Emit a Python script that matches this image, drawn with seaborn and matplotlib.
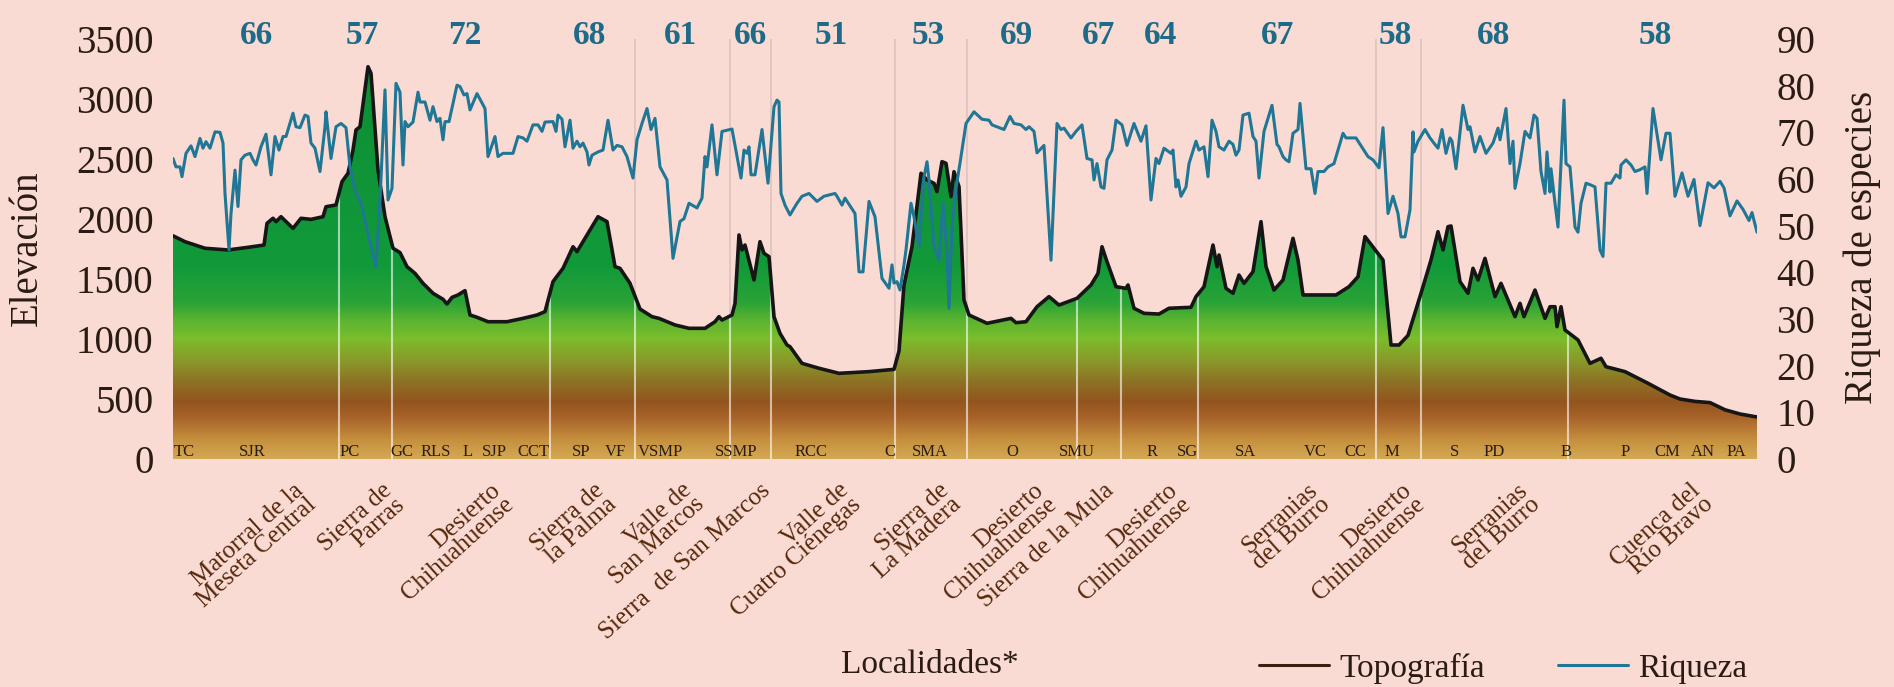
import numpy as np
import pandas as pd
import matplotlib
matplotlib.use("Agg")
import matplotlib.pyplot as plt
from matplotlib.colors import LinearSegmentedColormap
from matplotlib.lines import Line2D
import seaborn as sns

# position along the transect (0 = TC ... 1584 = PA) and elevation (m)
topo_pos = [0, 12, 32, 55, 75, 91, 94, 100, 103, 108,
            120, 128, 138, 150, 153, 163, 169, 175, 180, 183,
            187, 195, 198, 205, 212, 220, 227, 234, 242, 250,
            260, 270, 274, 279, 285, 292, 297, 304, 315, 334,
            350, 364, 372, 380, 390, 400, 404, 410, 425, 434,
            442, 447, 457, 467, 479, 486, 502, 516, 532, 542,
            546, 549, 559, 562, 566, 569, 572, 581, 587, 591,
            596, 601, 607, 614, 617, 629, 646, 666, 696, 721,
            726, 731, 739, 748, 754, 761, 764, 769, 773, 778,
            781, 786, 791, 796, 814, 838, 843, 853, 864, 876,
            886, 904, 918, 925, 929, 934, 943, 953, 955, 961,
            971, 986, 996, 1018, 1023, 1031, 1040, 1044, 1046, 1053,
            1060, 1066, 1071, 1080, 1088, 1093, 1101, 1110, 1120, 1125,
            1130, 1163, 1176, 1185, 1192, 1210, 1218, 1226, 1235, 1248,
            1258, 1265, 1270, 1275, 1278, 1287, 1295, 1300, 1305, 1312,
            1322, 1328, 1342, 1347, 1351, 1362, 1372, 1377, 1382, 1384,
            1388, 1392, 1405, 1417, 1428, 1433, 1452, 1475, 1497, 1507,
            1522, 1537, 1552, 1567, 1584]
topo_elev = [1860, 1811, 1756, 1742, 1764, 1783, 1964, 2006, 1978, 2019,
             1922, 2006, 1997, 2019, 2102, 2117, 2311, 2381, 2575, 2742,
             2769, 3269, 3214, 2408, 2019, 1756, 1720, 1603, 1547, 1464,
             1381, 1331, 1292, 1347, 1367, 1403, 1200, 1181, 1144, 1144,
             1172, 1200, 1228, 1478, 1589, 1769, 1728, 1811, 2019, 1978,
             1603, 1589, 1464, 1250, 1186, 1172, 1117, 1089, 1089, 1144,
             1186, 1158, 1200, 1297, 1867, 1742, 1783, 1492, 1811, 1714,
             1686, 1186, 1047, 950, 936, 797, 756, 714, 728, 747,
             900, 1450, 1769, 2381, 2325, 2297, 2228, 2478, 2464, 2186,
             2394, 2269, 1325, 1200, 1131, 1172, 1136, 1144, 1269, 1353,
             1283, 1339, 1450, 1547, 1769, 1644, 1436, 1422, 1450, 1256,
             1214, 1208, 1256, 1264, 1353, 1436, 1783, 1603, 1700, 1422,
             1381, 1533, 1464, 1561, 1978, 1603, 1408, 1492, 1839, 1658,
             1367, 1367, 1436, 1519, 1853, 1658, 950, 950, 1030, 1381,
             1658, 1894, 1742, 1936, 1942, 1478, 1381, 1589, 1492, 1672,
             1353, 1464, 1186, 1297, 1186, 1408, 1172, 1269, 1269, 1103,
             1269, 1075, 992, 797, 839, 769, 728, 631, 533, 500,
             480, 470, 410, 375, 350]

# species richness along the same transect
rich_pos = [0, 3, 7, 9, 13, 18, 22, 27, 30, 33,
            37, 42, 47, 50, 52, 56, 58, 62, 65, 68,
            72, 77, 80, 83, 88, 93, 98, 102, 106, 110,
            113, 120, 123, 127, 132, 135, 138, 142, 147, 152,
            153, 158, 163, 168, 173, 177, 182, 188, 198, 203,
            207, 212, 215, 219, 223, 227, 230, 232, 235, 240,
            245, 247, 252, 257, 260, 264, 267, 270, 272, 276,
            284, 287, 291, 294, 297, 304, 312, 315, 322, 325,
            330, 340, 345, 350, 354, 360, 365, 369, 372, 380,
            383, 385, 389, 392, 397, 400, 404, 407, 410, 414,
            416, 419, 425, 430, 435, 440, 444, 449, 454, 460,
            464, 469, 474, 478, 482, 487, 494, 500, 507, 511,
            516, 524, 529, 532, 534, 539, 544, 549, 559, 568,
            571, 574, 576, 578, 582, 589, 595, 601, 604, 606,
            608, 612, 617, 624, 629, 636, 644, 651, 662, 664,
            669, 672, 682, 686, 690, 696, 702, 709, 716, 719,
            721, 724, 727, 731, 733, 738, 741, 746, 751, 754,
            756, 761, 766, 770, 774, 776, 779, 783, 788, 793,
            801, 806, 809, 816, 819, 831, 837, 841, 848, 853,
            856, 861, 864, 871, 878, 884, 888, 891, 898, 903,
            909, 914, 919, 921, 924, 928, 931, 934, 939, 943,
            949, 954, 961, 968, 973, 978, 983, 986, 991, 998,
            1000, 1003, 1005, 1008, 1013, 1016, 1023, 1026, 1031, 1035,
            1039, 1043, 1046, 1051, 1056, 1060, 1063, 1066, 1070, 1076,
            1080, 1083, 1086, 1091, 1099, 1104, 1106, 1110, 1113, 1116,
            1120, 1125, 1127, 1133, 1138, 1142, 1145, 1151, 1155, 1161,
            1170, 1173, 1183, 1195, 1200, 1206, 1210, 1215, 1220, 1225,
            1228, 1232, 1237, 1240, 1241, 1245, 1252, 1257, 1262, 1265,
            1269, 1273, 1277, 1279, 1283, 1290, 1295, 1297, 1302, 1307,
            1313, 1320, 1325, 1327, 1333, 1337, 1340, 1342, 1347, 1352,
            1357, 1361, 1364, 1368, 1372, 1374, 1377, 1378, 1382, 1385,
            1391, 1393, 1397, 1402, 1405, 1408, 1413, 1418, 1422, 1427,
            1430, 1433, 1438, 1443, 1447, 1448, 1453, 1458, 1462, 1467,
            1472, 1474, 1480, 1488, 1493, 1497, 1502, 1509, 1515, 1521,
            1527, 1535, 1541, 1547, 1551, 1557, 1564, 1570, 1576, 1579,
            1584]
rich_val = [64.4, 62.6, 62.6, 60.5, 65.5, 67.1, 64.8, 68.7, 66.6, 68.0,
            66.6, 70.1, 70.0, 67.7, 56.9, 44.8, 52.6, 61.9, 54.1, 64.1,
            65.1, 65.5, 64.1, 63.0, 66.9, 69.6, 60.9, 69.1, 66.2, 69.1,
            69.1, 74.1, 71.2, 71.0, 73.7, 73.4, 67.7, 66.6, 61.6, 71.2,
            74.4, 64.4, 71.2, 71.9, 71.0, 62.6, 57.6, 54.8, 45.5, 41.1,
            55.5, 79.1, 55.5, 58.0, 80.5, 78.6, 63.0, 72.3, 71.2, 72.2,
            78.6, 76.5, 76.5, 72.6, 75.5, 72.3, 73.0, 68.4, 72.3, 72.3,
            80.1, 79.8, 78.0, 78.3, 74.8, 78.3, 75.1, 64.8, 69.1, 64.8,
            65.5, 65.5, 69.1, 68.8, 68.1, 71.6, 71.6, 70.2, 72.2, 72.3,
            70.2, 73.7, 72.8, 66.9, 72.6, 66.6, 68.1, 66.9, 67.7, 65.8,
            63.0, 65.1, 65.8, 66.2, 72.6, 66.2, 67.2, 66.9, 64.8, 60.2,
            68.4, 71.9, 75.1, 70.6, 73.0, 62.6, 59.8, 43.0, 50.9, 51.5,
            54.8, 53.8, 55.9, 64.8, 62.6, 71.6, 60.9, 70.2, 70.7, 60.2,
            66.2, 65.5, 66.9, 60.9, 60.9, 70.6, 59.1, 75.5, 76.9, 76.5,
            56.9, 54.4, 52.3, 54.8, 56.3, 56.9, 55.2, 56.3, 56.9, 56.3,
            54.4, 55.9, 52.6, 40.1, 40.1, 55.2, 51.9, 38.7, 36.6, 41.6,
            37.7, 38.0, 36.2, 41.6, 44.8, 54.8, 51.9, 45.5, 60.5, 63.7,
            59.8, 45.5, 42.6, 54.8, 44.1, 32.3, 49.7, 58.0, 64.8, 71.9,
            74.4, 73.4, 72.8, 72.6, 71.6, 70.6, 73.4, 71.9, 71.6, 70.6,
            71.2, 70.2, 65.6, 67.2, 42.6, 71.9, 70.6, 70.9, 68.8, 70.2,
            71.6, 64.4, 64.1, 59.8, 63.3, 58.3, 58.0, 64.1, 66.2, 72.6,
            71.6, 67.2, 71.9, 68.1, 71.4, 55.5, 64.4, 63.3, 66.6, 65.5,
            66.2, 58.3, 59.8, 56.3, 58.3, 63.3, 68.1, 66.2, 66.9, 60.5,
            72.6, 70.2, 66.9, 66.2, 68.1, 67.4, 65.1, 66.2, 73.7, 74.1,
            69.1, 68.1, 60.2, 70.2, 75.8, 67.4, 66.9, 64.8, 64.1, 63.7,
            69.8, 70.6, 76.2, 62.2, 62.2, 56.9, 61.6, 61.6, 62.6, 63.3,
            69.8, 68.8, 68.8, 64.8, 64.1, 62.4, 71.0, 52.6, 56.3, 52.6,
            47.6, 47.6, 53.4, 70.1, 65.8, 68.1, 70.6, 68.8, 67.4, 66.6,
            70.6, 65.5, 68.8, 68.1, 62.2, 75.8, 70.6, 71.2, 65.8, 69.1,
            65.5, 67.7, 70.9, 68.4, 75.1, 63.3, 68.1, 58.0, 63.3, 70.2,
            68.8, 73.7, 73.0, 61.6, 56.9, 65.8, 57.2, 62.2, 54.8, 49.7,
            76.9, 63.3, 62.6, 49.7, 48.6, 54.8, 59.1, 58.7, 58.3, 44.8,
            43.4, 59.1, 59.1, 60.9, 60.2, 63.0, 64.1, 63.0, 61.6, 62.0,
            62.6, 56.9, 75.1, 64.1, 69.8, 69.8, 56.3, 61.3, 56.3, 59.9,
            50.0, 59.2, 58.1, 59.5, 58.1, 52.1, 55.3, 53.5, 51.1, 52.8,
            48.6]

# locality codes along the bottom
site_codes = ["TC", "SJR", "PC", "GC", "RLS", "L", "SJP", "CCT", "SP", "VF",
              "VSMP", "SSMP", "RCC", "C", "SMA", "O", "SMU", "R", "SG", "SA",
              "VC", "CC", "M", "S", "PD", "B", "P", "CM", "AN", "PA"]
site_pos = [11, 79, 177, 229, 263, 295, 321, 360, 408, 442,
            487, 563, 638, 717, 757, 839, 904, 979, 1014, 1072,
            1142, 1182, 1219, 1281, 1321, 1393, 1452, 1494, 1530, 1563]

# boundaries between localities (pale vertical lines)
bound_pos = [166, 219, 377, 462, 557, 598, 722, 794, 904, 948, 1025, 1203, 1248, 1395]
sky_bound_pos = [462, 557, 598, 722, 794, 1203, 1248]

# total richness of each region (numbers on top)
total_rich = [66, 57, 72, 68, 61, 66, 51, 53, 69, 67, 64, 67, 58, 68, 58]
total_pos = [83, 189, 292, 417, 507, 577, 658, 755, 843, 926, 988, 1105, 1222, 1321, 1482]

# region names under the axis
regions = ["Matorral de la\nMeseta Central", "Sierra de\nParras", "Desierto\nChihuahuense",
           "Sierra de\nla Palma", "Valle de\nSan Marcos", "Sierra  de San Marcos",
           "Valle de\nCuatro Ciénegas", "Sierra de\nLa Madera", "Desierto\nChihuahuense",
           "Sierra de la Mula", "Desierto\nChihuahuense", "Serranias\ndel Burro",
           "Desierto\nChihuahuense", "Serranias\ndel Burro", "Cuenca del\nRío Bravo"]
region_pos = [120, 208, 317, 420, 508, 587, 665, 765, 860, 930, 994, 1134, 1228, 1344, 1517]

topo = pd.DataFrame({"pos": topo_pos, "elev": topo_elev})
rich = pd.DataFrame({"pos": rich_pos, "riqueza": rich_val})

sns.set_theme(style="white")
plt.rcParams["font.family"] = ["Liberation Serif", "DejaVu Serif"]

BG = "#fadbd4"
TXT = "#2a1c14"
BLUE = "#1f7695"
XMAX = 1584

fig = plt.figure(figsize=(18.94, 6.87), dpi=100, facecolor=BG)
ax = fig.add_axes([173 / 1894, 1 - 459 / 687, (1757 - 173) / 1894, 420 / 687])
ax.set_facecolor(BG)

# faint boundary lines running up through the sky
ax.vlines(sky_bound_pos, 0, 3500, colors="#b9a5a2", lw=1.2, alpha=0.45, zorder=0.5)

# soil-to-vegetation colour gradient under the profile
stops = [(0, "#d4a852"), (150, "#c6903e"), (330, "#a9652a"), (470, "#93541f"),
         (640, "#8d7224"), (820, "#8a9a2a"), (1000, "#7bbd2c"), (1150, "#5cb430"),
         (1300, "#2aa336"), (1600, "#129a3a"), (3500, "#0c8d35")]
soil = LinearSegmentedColormap.from_list("soil", [(e / 3500, c) for e, c in stops])
poly = ax.fill_between(topo["pos"], 0, topo["elev"], color="none", lw=0)
grad = np.linspace(0, 1, 700).reshape(-1, 1)
img = ax.imshow(grad, cmap=soil, origin="lower", aspect="auto",
                extent=[0, XMAX, 0, 3500], zorder=1)
img.set_clip_path(poly.get_paths()[0], transform=ax.transData)

# pale boundary lines up to the profile
tops = np.interp(bound_pos, topo_pos, topo_elev)
ax.vlines(bound_pos, 0, tops, colors="white", lw=1.5, alpha=0.6, zorder=2)

sns.lineplot(data=topo, x="pos", y="elev", ax=ax, color="#161616", lw=2.6,
             estimator=None, sort=False, zorder=4)

for code, p in zip(site_codes, site_pos):
    ax.text(p, 60, code, ha="center", va="center", fontsize=12, color=TXT, zorder=6)

for n, p in zip(total_rich, total_pos):
    ax.text(p, 3525, str(n), ha="center", va="center", fontsize=24,
            fontweight="bold", color="#1d6b88", clip_on=False)

for name, p in zip(regions, region_pos):
    ax.text(p, -0.048, name, transform=ax.get_xaxis_transform(), rotation=42,
            rotation_mode="anchor", ha="right", va="top", multialignment="right",
            linespacing=0.84, fontsize=18, color="#55270a")

ax.set_xlim(0, XMAX)
ax.set_ylim(0, 3500)
ax.set_yticks(range(0, 3501, 500))
ax.set_xticks([])
ax.set_xlabel("")
ax.set_ylabel("")
ax.tick_params(axis="y", length=0, pad=14, labelsize=28, labelcolor=TXT)

ax2 = ax.twinx()
sns.lineplot(data=rich, x="pos", y="riqueza", ax=ax2, color=BLUE, lw=2.2,
             estimator=None, sort=False)
ax2.set_ylim(0, 90)
ax2.set_yticks(range(0, 91, 10))
ax2.set_ylabel("")
ax2.tick_params(axis="y", length=0, pad=14, labelsize=28, labelcolor=TXT)

for a in (ax, ax2):
    for s in a.spines.values():
        s.set_visible(False)

fig.text(27 / 1894, 1 - 248 / 687, "Elevación", rotation=90, ha="center", va="center",
         fontsize=28, color=TXT)
fig.text(1862 / 1894, 1 - 247 / 687, "Riqueza de especies", rotation=90, ha="center",
         va="center", fontsize=28, color=TXT)
fig.text(930 / 1894, 1 - 665 / 687, "Localidades*", ha="center", va="center",
         fontsize=24, color=TXT)

handles = [Line2D([], [], color="#3d1f0e", lw=2.2), Line2D([], [], color=BLUE, lw=2.2)]
fig.legend(handles, ["Topografía", "Riqueza"], loc="center left",
           bbox_to_anchor=(1259 / 1894, 1 - 668 / 687), ncol=2, frameon=False,
           fontsize=24, labelcolor=TXT, handlelength=2.1, handletextpad=0.3,
           columnspacing=2.2, borderpad=0, borderaxespad=0)

fig.savefig("out.png", dpi=100, facecolor=BG)
